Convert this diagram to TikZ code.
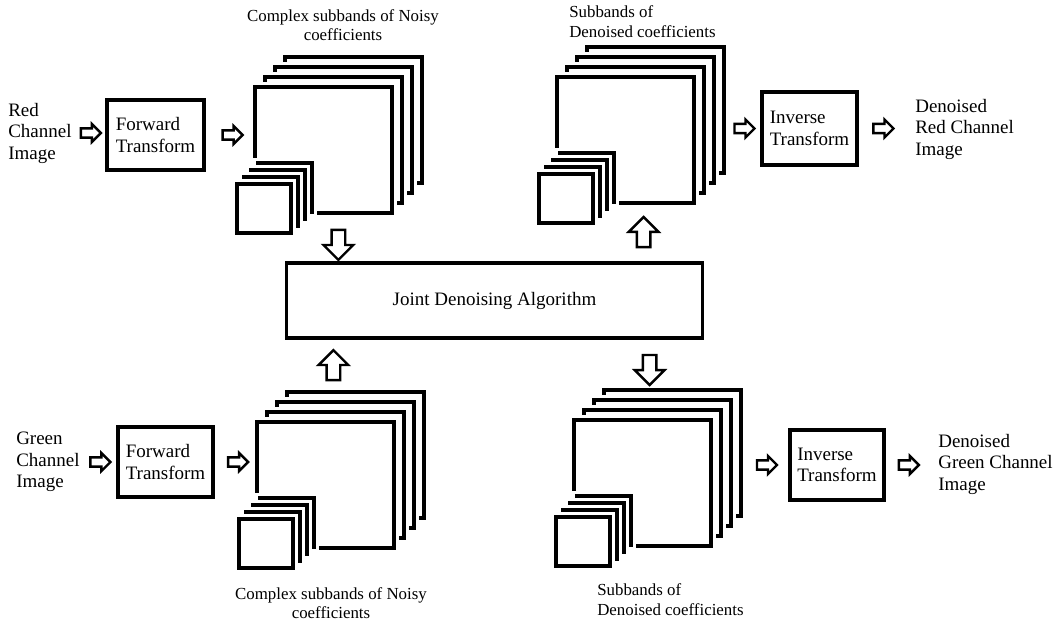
\documentclass[tikz,border=0pt]{standalone}
\usepackage{fontspec}
\setmainfont{Liberation Serif}
\usetikzlibrary{shapes.arrows,calc}

% stack of subband squares: #1 = name, (#2,#3) = top left of the front big square
\newcommand{\subbandstack}[3]{%
  \foreach \k in {3,2,1}
    \node[layer, bigsq] (#1-\k) at (#2+10*\k, #3-10*\k) {};
  \node[layer, bigsq] (#1) at (#2, #3) {};
  \foreach \k in {3,2,1}
    \node[layer, smallsq] (#1s-\k) at (#2-18+7*\k, #3+97-7*\k) {};
  \node[layer, smallsq] (#1s) at (#2-18, #3+97) {};
}

\begin{document}
\begin{tikzpicture}[x=0.025cm, y=-0.025cm,
% common options for the square layers:
layer/.style = {draw, line width=2.3pt, fill=white,
            preaction={draw=white, line width=6.5pt},
            inner sep=0, outer sep=0, anchor=north west},
bigsq/.style = {minimum width=3.425cm, minimum height=3.15cm},
smallsq/.style = {minimum width=1.35cm, minimum height=1.225cm},
% common options for blocks:
block/.style = {draw, line width=2.2pt, align=left, inner sep=0,
            font=\fontsize{13.5}{15.3}\selectfont},
% plain texts:
lbl/.style = {align=left, inner sep=0, anchor=west,
            font=\fontsize{13.5}{15.3}\selectfont},
captxt/.style = {inner sep=0, font=\fontsize{12}{14}\selectfont},
% hollow block arrows:
harrow/.style = {single arrow, draw, line width=1.7pt, fill=white,
            inner xsep=0, inner ysep=0.085cm, minimum width=0,
            single arrow head extend=0.11cm, minimum height=0.5cm},
varrow/.style = {single arrow, draw, line width=1.7pt, fill=white,
            inner xsep=0, inner ysep=0.14cm, minimum width=0,
            single arrow head extend=0.2cm, minimum height=0.75cm}]
\useasboundingbox (0,0) rectangle (1058,626);

\node[lbl] (red) at (8,133) {Red\\Channel\\Image};
\node[block, minimum width=2.425cm, minimum height=1.75cm] (fwd1) at (155.5,135) {Forward\\Transform};
\subbandstack{noisyR}{255}{87}
\node[captxt, align=center] (capA) at (343,25) {Complex subbands of Noisy\\coefficients};

\subbandstack{denR}{557}{77}
\node[captxt, align=left, anchor=west] (capB) at (569,21.5) {Subbands of\\Denoised coefficients};
\node[block, minimum width=2.375cm, minimum height=1.825cm] (inv1) at (809.5,128.5) {Inverse\\Transform};
\node[lbl] (out1) at (915,129) {Denoised\\Red Channel\\Image};

\node[block, align=center, minimum width=10.375cm, minimum height=1.875cm] (joint) at (494.5,300.5) {Joint Denoising Algorithm};

\node[lbl] (green) at (16,462) {Green\\Channel\\Image};
\node[block, minimum width=2.375cm, minimum height=1.75cm] (fwd2) at (165.5,462) {Forward\\Transform};
\subbandstack{noisyG}{257}{422}
\node[captxt, align=center] (capC) at (331,603) {Complex subbands of Noisy\\coefficients};

\subbandstack{denG}{574}{420}
\node[captxt, align=left, anchor=west] (capD) at (597,599.5) {Subbands of\\Denoised coefficients};
\node[block, minimum width=2.35cm, minimum height=1.75cm] (inv2) at (837,465) {Inverse\\Transform};
\node[lbl] (out2) at (938,464) {Denoised\\Green Channel\\Image};

% arrows along the channels
\node[harrow] (a1) at ($(red.east)!0.5!(fwd1.west |- red.east)$) {};
\node[harrow] (a2) at ($(fwd1.east)!0.5!(noisyR.west |- fwd1.east)$) {};
\node[harrow] (a3) at ($(denR-3.east |- inv1.west)!0.5!(inv1.west)$) {};
\node[harrow] (a4) at ($(inv1.east)!0.4!(out1.west |- inv1.east)$) {};
\node[harrow] (a5) at ($(green.east)!0.5!(fwd2.west |- green.east)$) {};
\node[harrow] (a6) at ($(fwd2.east)!0.5!(noisyG.west |- fwd2.east)$) {};
\node[harrow] (a7) at ($(denG-3.east |- inv2.west)!0.5!(inv2.west)$) {};
\node[harrow] (a8) at ($(inv2.east)!0.4!(out2.west |- inv2.east)$) {};

% arrows to and from the joint block
\node[varrow, rotate=-90] (d1) at ($(joint.north west)+(53,-20)$) {};
\node[varrow, rotate=90] (u1) at ($(joint.north east)+(-60,-26)$) {};
\node[varrow, rotate=90] (u2) at ($(joint.south west)+(48,29)$) {};
\node[varrow, rotate=-90] (d2) at ($(joint.south east)+(-54,27)$) {};
\end{tikzpicture}
\end{document}
